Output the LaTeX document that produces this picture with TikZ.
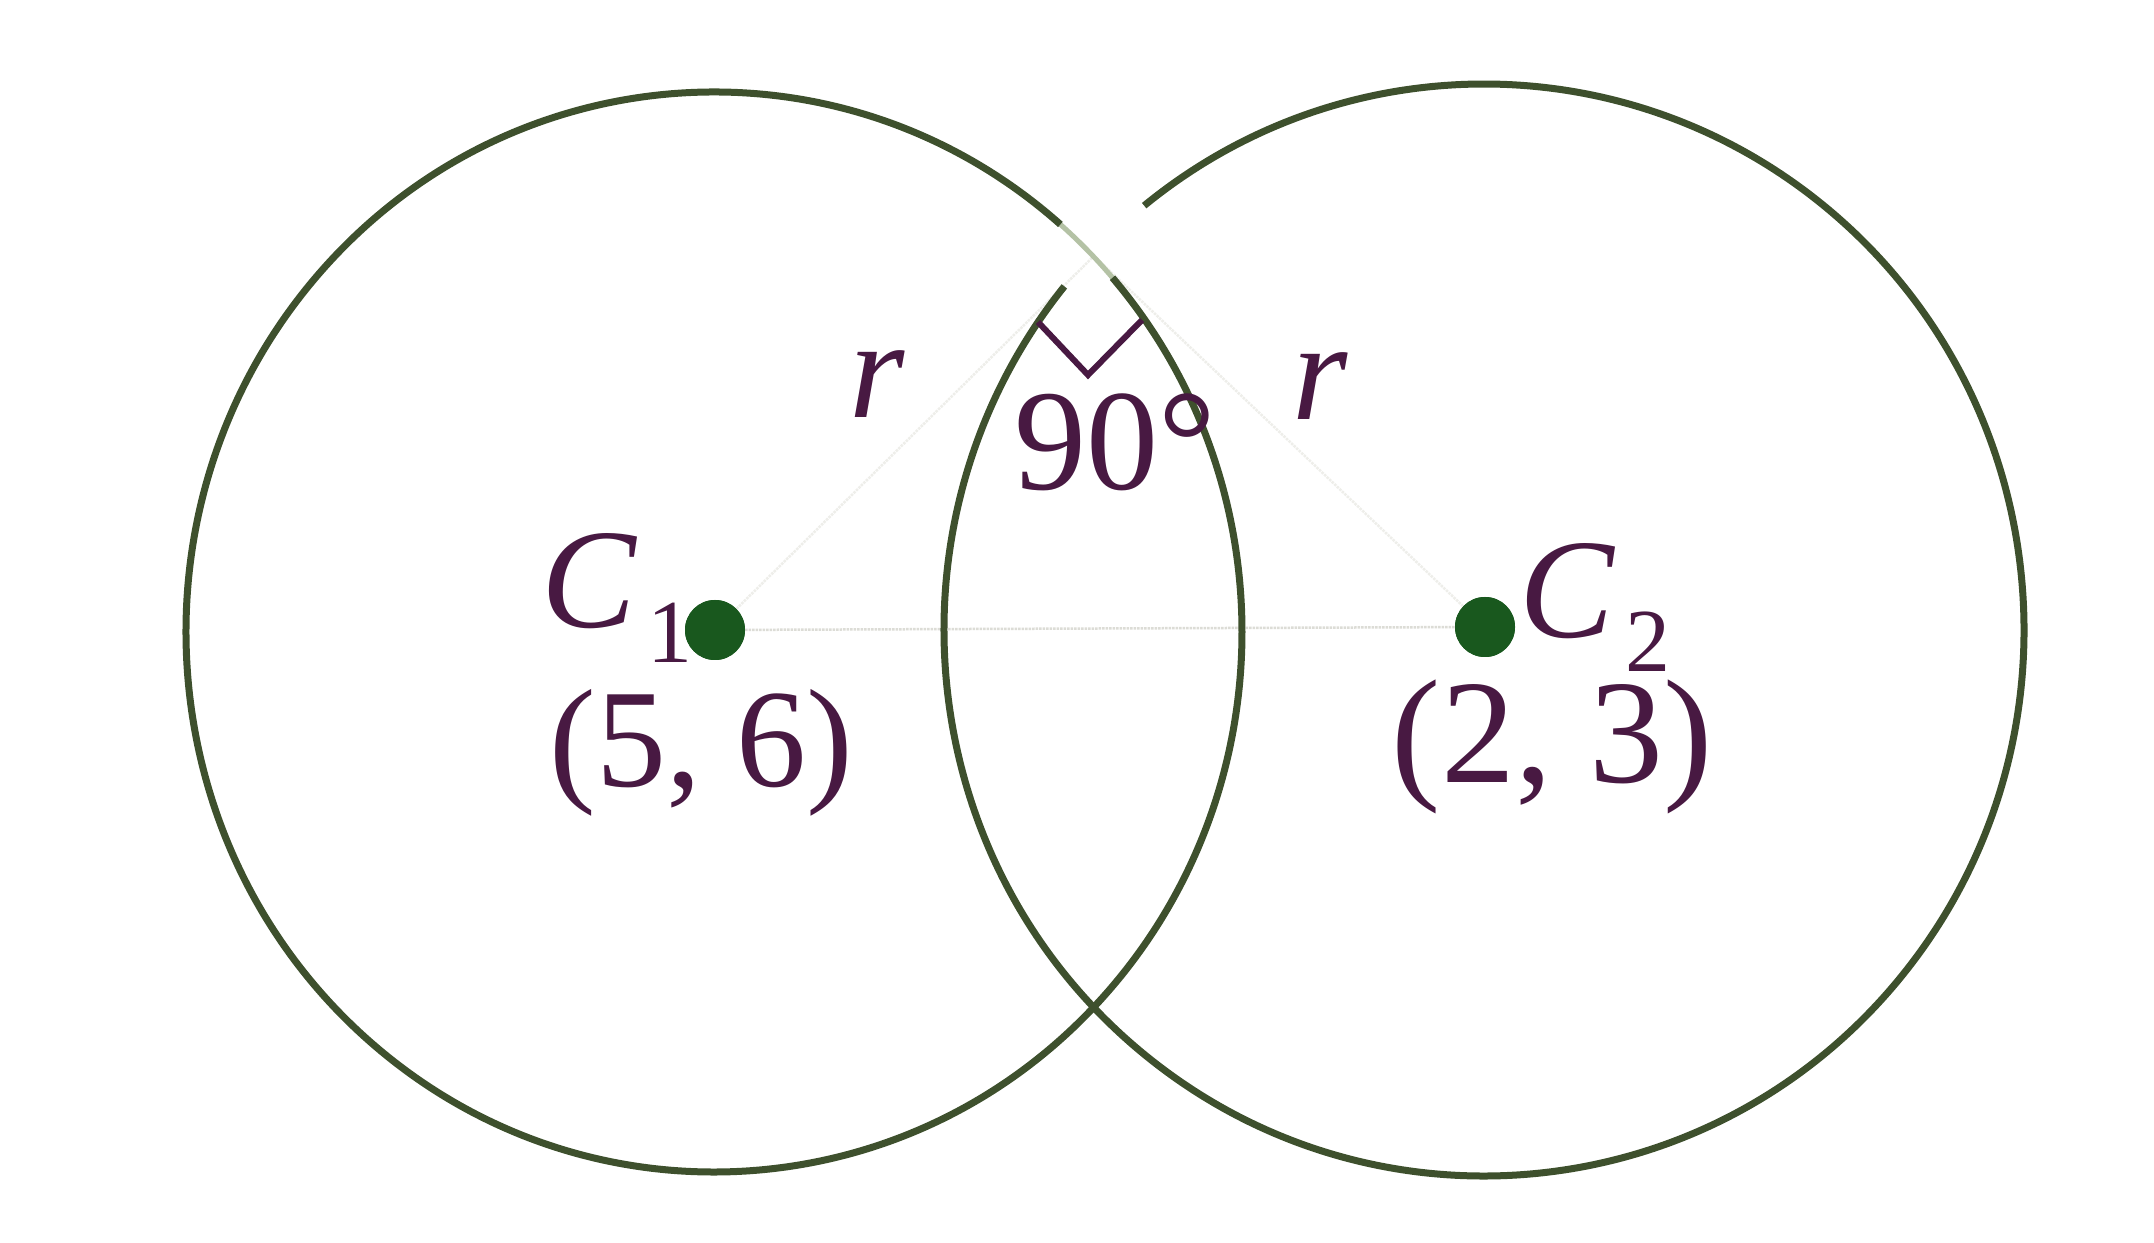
\documentclass[tikz,border=0pt]{standalone}
\usepackage{fontspec}
\setmainfont{Liberation Serif}
\definecolor{circ}{RGB}{62,80,45}
\definecolor{circfaint}{RGB}{180,194,165}
\definecolor{ink}{RGB}{72,25,66}
\definecolor{dotc}{RGB}{25,88,30}
\definecolor{faintl}{RGB}{220,220,214}
\definecolor{fainter}{RGB}{238,238,234}
\tikzset{
  circline/.style={draw=circ, line width=7pt},
  gapline/.style={draw=circfaint, line width=5pt},
  faintline/.style={draw=faintl, line width=2.5pt, densely dotted},
  fainterline/.style={draw=fainter, line width=2.5pt, densely dotted},
  centerdot/.style={circle, fill=dotc, inner sep=0pt, minimum size=60pt},
  lab/.style={text=ink, inner sep=0pt, font=\fontsize{142}{150}\selectfont},
  marker/.style={draw=ink, line width=6pt, line join=miter}
}
\begin{document}
\begin{tikzpicture}[x=1pt,y=1pt]
\useasboundingbox (0,0) rectangle (2154,1242);
\fill[white] (0,0) rectangle (2154,1242);

% key points
\coordinate (P) at (1094,986);
\coordinate (m1) at (1038,920);
\coordinate (mv) at (1088,867);
\coordinate (m2) at (1142,922);

% faint construction lines
\node[centerdot] (c1) at (715,612) {};
\node[centerdot] (c2) at (1485,615) {};
\draw[faintline] (c1) -- (c2);
\draw[fainterline] (c1) -- (P);
\draw[fainterline] (c2) -- (P);

% circles (with the worn gap near the upper intersection)
\draw[gapline] (714,610) ++(41:528 and 540) arc[start angle=41, end angle=49, x radius=528, y radius=540];
\draw[circline] (714,610) ++(49:528 and 540) arc[start angle=49, end angle=401, x radius=528, y radius=540];
\draw[circline] (1484,612) ++(141:540 and 546) arc[start angle=141, end angle=489, x radius=540, y radius=546];

% right-angle mark
\draw[marker] (m1) -- (mv) -- (m2);

% dots on top
\node[centerdot] at (c1) {};
\node[centerdot] at (c2) {};

% labels
\node[lab, anchor=base west] (lc1) at (541,614) {\textit{C}\kern10pt\raisebox{-35pt}{\fontsize{90}{90}\selectfont 1}};
\node[lab, anchor=base west] (lc2) at (1519,604) {\textit{C}\kern10pt\raisebox{-34pt}{\fontsize{90}{90}\selectfont 2}};
\node[lab, anchor=base, font=\fontsize{140}{150}\selectfont] (p1) at (701,455) {(5, 6)};
\node[lab, anchor=base, font=\fontsize{148}{150}\selectfont] (p2) at (1552,459) {(2, 3)};
\node[lab, anchor=base west] (r1) at (849,824) {\textit{r}};
\node[lab, anchor=base west] (r2) at (1292,822) {\textit{r}};
\node[lab, anchor=base west, font=\fontsize{144}{150}\selectfont] (ang) at (1014,752) {90°};
\end{tikzpicture}
\end{document}
